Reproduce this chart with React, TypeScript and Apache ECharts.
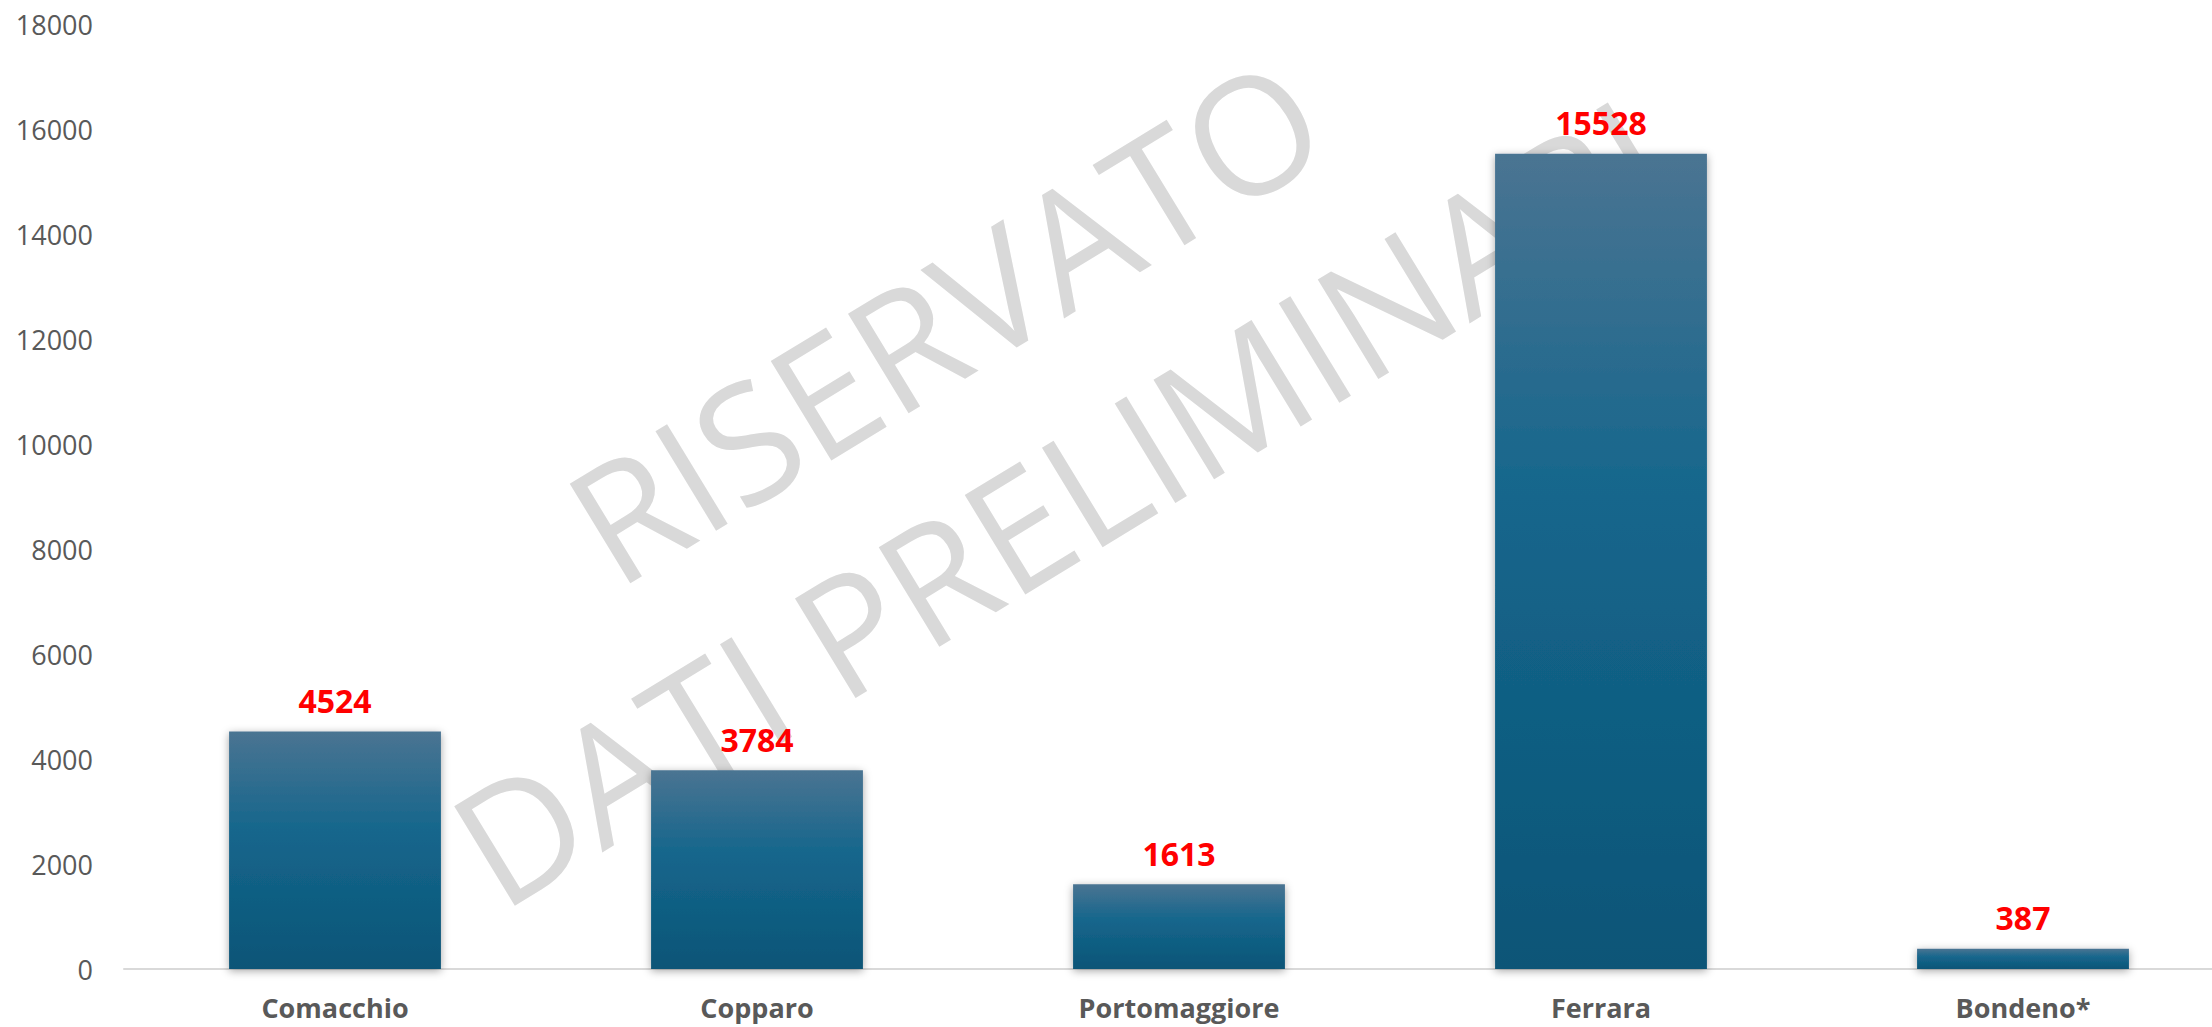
import React, { useEffect, useRef } from "react";
import * as echarts from "echarts";

const categories = ["Comacchio", "Copparo", "Portomaggiore", "Ferrara", "Bondeno*"];
const values = [4524, 3784, 1613, 15528, 387];
const yTicks = { min: 0, max: 18000, interval: 2000 };
const watermarkLines = ["RISERVATO", "DATI PRELIMINARI"];

export default function App() {
  const ref = useRef<HTMLDivElement>(null);
  useEffect(() => {
    if (!ref.current) return;
    const chart = echarts.init(ref.current, null, { renderer: "svg" });
    const rot = (31.4 * Math.PI) / 180;
    const wm = (text: string, x: number, y: number) => ({
      type: "text",
      x,
      y,
      rotation: rot,
      z: 0,
      silent: true,
      style: {
        text,
        fontFamily: "Open Sans",
        fontSize: 163,
        fill: "#d9d9d9",
        align: "center",
        verticalAlign: "middle",
      },
    });
    chart.setOption({
      animation: false,
      backgroundColor: "#ffffff",
      textStyle: { fontFamily: "Open Sans" },
      graphic: [wm(watermarkLines[0], 944, 318), wm(watermarkLines[1], 1059, 500)],
      grid: { left: 124, right: 0, top: 24, bottom: 58, containLabel: false },
      xAxis: {
        type: "category",
        data: categories,
        axisLine: { show: true, lineStyle: { color: "#d9d9d9", width: 2 } },
        axisTick: { show: false },
        axisLabel: {
          color: "#595959",
          fontSize: 27,
          lineHeight: 30,
          fontWeight: "bold",
          fontFamily: "Open Sans",
          margin: 23,
          interval: 0,
        },
      },
      yAxis: {
        type: "value",
        min: yTicks.min,
        max: yTicks.max,
        interval: yTicks.interval,
        axisLine: { show: false },
        axisTick: { show: false },
        splitLine: { show: false },
        axisLabel: {
          color: "#595959",
          fontSize: 27,
          fontFamily: "Open Sans",
          margin: 31,
          formatter: (v: number) => String(v),
        },
      },
      series: [
        {
          type: "bar",
          data: values,
          z: 5,
          barCategoryGap: "49.8%",
          itemStyle: {
            color: new echarts.graphic.LinearGradient(0, 0, 0, 1, [
              { offset: 0, color: "#4a7492" },
              { offset: 0.42, color: "#15668c" },
              { offset: 1, color: "#0b5577" },
            ]),
            shadowBlur: 8,
            shadowColor: "rgba(0,0,0,0.35)",
            shadowOffsetX: 0,
            shadowOffsetY: 2,
          },
          label: {
            show: true,
            position: "top",
            distance: 15,
            color: "#ff0000",
            fontSize: 32,
            fontWeight: "bold",
            fontFamily: "Open Sans",
          },
        },
      ],
    });
    return () => chart.dispose();
  }, []);
  return (
    <div
      style={{
        position: "fixed",
        left: 0,
        top: 0,
        width: "2212px",
        height: "1027px",
        overflow: "hidden",
      }}
    >
      <div ref={ref} style={{ width: "2234px", height: "1027px" }} />
    </div>
  );
}
